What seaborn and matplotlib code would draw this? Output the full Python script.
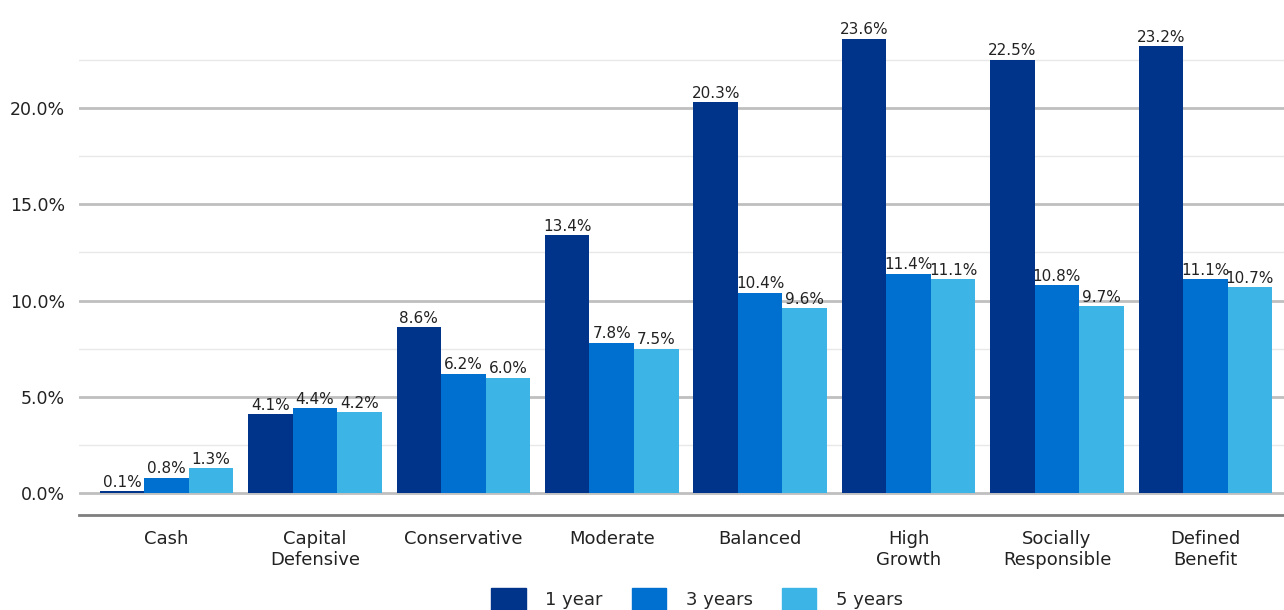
import matplotlib
matplotlib.use("Agg")
import matplotlib.pyplot as plt
import seaborn as sns
import pandas as pd
from matplotlib.ticker import MultipleLocator, FuncFormatter

categories = ["Cash", "Capital\nDefensive", "Conservative", "Moderate", "Balanced",
              "High\nGrowth", "Socially\nResponsible", "Defined\nBenefit"]
series_names = ["1 year", "3 years", "5 years"]
one_year = [0.1, 4.1, 8.6, 13.4, 20.3, 23.6, 22.5, 23.2]
three_years = [0.8, 4.4, 6.2, 7.8, 10.4, 11.4, 10.8, 11.1]
five_years = [1.3, 4.2, 6.0, 7.5, 9.6, 11.1, 9.7, 10.7]
colors = ["#00338A", "#0070D0", "#3DB4E6"]

rows = []
for name, vals in zip(series_names, [one_year, three_years, five_years]):
    for c, v in zip(categories, vals):
        rows.append({"category": c, "series": name, "value": v})
df = pd.DataFrame(rows)

sns.set_theme(style="white")
plt.rcParams['font.family'] = ['DejaVu Sans']

# y scale: 0 at px 493, 20% at px 108 -> 19.25 px per %
ppu = 19.25
y_top, y_bot = 24.4, -1.15
top_px = 493 - y_top * ppu
bot_px = 493 - y_bot * ppu
fig = plt.figure(figsize=(12.84, 6.10), dpi=100)
ax = fig.add_axes([79/1284, (610-bot_px)/610, (1284-79)/1284, (bot_px-top_px)/610])

sns.barplot(data=df, x="category", y="value", hue="series", order=categories,
            hue_order=series_names, palette=colors, width=0.9, saturation=1,
            ax=ax, legend=True, zorder=3, linewidth=0)

for cont in ax.containers:
    ax.bar_label(cont, fmt="%.1f%%", padding=1, fontsize=11, color="#222222")

ax.set_ylim(y_bot, y_top)
ax.set_xlim(-0.59, 7.53)
ax.yaxis.set_major_locator(MultipleLocator(5))
ax.yaxis.set_minor_locator(MultipleLocator(2.5))
ax.yaxis.set_major_formatter(FuncFormatter(lambda v, p: f"{v:.1f}%" if v >= 0 else ""))
ax.grid(axis="y", which="major", color="#BFBFBF", linewidth=2, zorder=0)
ax.grid(axis="y", which="minor", color="#E8E8E8", linewidth=1, zorder=0)
ax.set_axisbelow(True)
ax.tick_params(axis="y", which="both", length=0, labelsize=12.5, pad=10, labelcolor="#222222")
ax.tick_params(axis="x", length=6, width=2, color="#7F7F7F", labelsize=13, pad=5, labelcolor="#222222")
ax.set_xlabel("")
ax.set_ylabel("")
for s in ["top", "right", "left"]:
    ax.spines[s].set_visible(False)
ax.spines["bottom"].set_color("#7F7F7F")
ax.spines["bottom"].set_linewidth(2)

ax.legend_.remove()
handles = [plt.Rectangle((0, 0), 1, 1, color=c) for c in colors]
fig.legend(handles, series_names, loc="upper center", bbox_to_anchor=(0.543, 1 - 575/610),
           ncol=3, frameon=False, fontsize=13, handlelength=1.9, handleheight=1.6,
           columnspacing=1.6, handletextpad=1.1, borderpad=0.2)

fig.savefig("out.png", dpi=100)
